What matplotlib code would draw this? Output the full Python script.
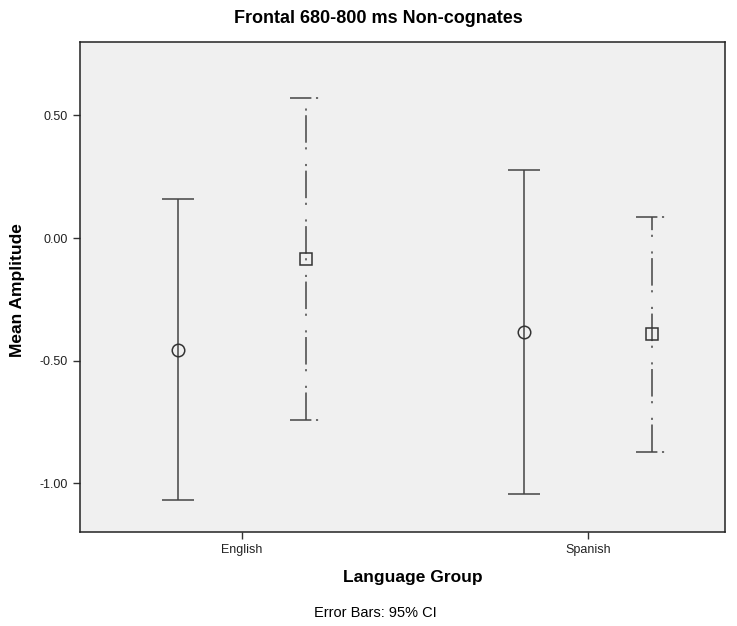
import matplotlib.pyplot as plt

plt.rcParams['font.family'] = ['Liberation Sans', 'DejaVu Sans']

# Data (mean and 95% CI bounds)
groups = ['English', 'Spanish']
circle_mean = [-0.458, -0.384]
circle_low = [-1.071, -1.045]
circle_high = [0.158, 0.278]
square_mean = [-0.087, -0.391]
square_low = [-0.741, -0.872]
square_high = [0.571, 0.087]

offset = 0.185
line_col = '#444444'
dashdot = (0, (18, 3, 1.4, 9.5, 1.4, 3))
cap_dash = (0, (14, 3, 1.4, 12))

fig = plt.figure(figsize=(7.37, 6.26), dpi=100)
ax = fig.add_axes([0.1085, 0.150, 0.875, 0.783])
ax.set_facecolor('#f0f0f0')

xc = [i - offset for i in range(len(groups))]
xs = [i + offset for i in range(len(groups))]
cap = 0.046

# circles, solid bars
ax.vlines(xc, circle_low, circle_high, color=line_col, linewidth=1.1)
ax.hlines(circle_low, [x - cap for x in xc], [x + cap for x in xc], color=line_col, linewidth=1.1)
ax.hlines(circle_high, [x - cap for x in xc], [x + cap for x in xc], color=line_col, linewidth=1.1)
ax.plot(xc, circle_mean, linestyle='none', marker='o', markersize=9,
        markerfacecolor='none', markeredgecolor='#333333', markeredgewidth=1.1)

# squares, dash-dot bars
ax.vlines(xs, square_low, square_high, color=line_col, linewidth=1.1, linestyles=[dashdot])
ax.hlines(square_low, [x - cap for x in xs], [x + cap for x in xs], color=line_col, linewidth=1.1,
          linestyles=[cap_dash])
ax.hlines(square_high, [x - cap for x in xs], [x + cap for x in xs], color=line_col, linewidth=1.1,
          linestyles=[cap_dash])
ax.plot(xs, square_mean, linestyle='none', marker='s', markersize=9,
        markerfacecolor='none', markeredgecolor='#333333', markeredgewidth=1.1)

ax.set_xlim(-0.467, 1.395)
ax.set_ylim(-1.2, 0.8)
ax.set_xticks(range(len(groups)))
ax.set_xticklabels(groups, fontsize=9)
ax.set_yticks([0.5, 0.0, -0.5, -1.0])
ax.set_yticklabels(['0.50', '0.00', '-0.50', '-1.00'], fontsize=9)
ax.tick_params(direction='out', length=5, width=1, color='#333333', labelcolor='#222222')
for s in ax.spines.values():
    s.set_color('#222222')
    s.set_linewidth(1.1)

fig.text(0.024, 0.537, 'Mean Amplitude', fontsize=12.5, fontweight='bold',
         rotation=90, ha='center', va='center')
fig.text(0.560, 0.077, 'Language Group', fontsize=12.5, fontweight='bold',
         ha='center', va='center')
fig.text(0.513, 0.970, 'Frontal 680-800 ms Non-cognates', fontsize=13, fontweight='bold',
         ha='center', va='center')
fig.text(0.509, 0.021, 'Error Bars: 95% CI', fontsize=10.5, ha='center', va='center')

plt.savefig('out.png', dpi=100)
